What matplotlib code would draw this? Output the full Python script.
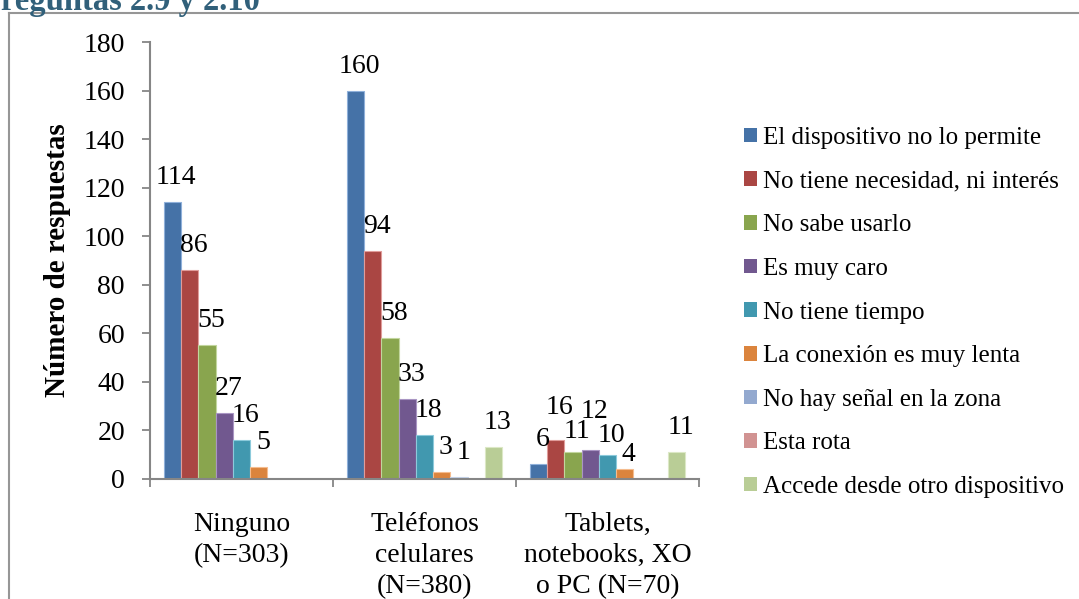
import numpy as np
import matplotlib.pyplot as plt
from matplotlib.patches import Patch

plt.rcParams['font.family'] = ['Liberation Serif', 'DejaVu Serif']

categorias = ['Ninguno\n(N=303)', 'Teléfonos\ncelulares\n(N=380)', 'Tablets,\nnotebooks, XO\no PC (N=70)']
series = ['El dispositivo no lo permite', 'No tiene necesidad, ni interés', 'No sabe usarlo',
          'Es muy caro', 'No tiene tiempo', 'La conexión es muy lenta',
          'No hay señal en la zona', 'Esta rota', 'Accede desde otro dispositivo']
nan = np.nan
valores = [
    [114, 160, 6],
    [86, 94, 16],
    [55, 58, 11],
    [27, 33, 12],
    [16, 18, 10],
    [5, 3, 4],
    [nan, 1, nan],
    [nan, nan, nan],
    [nan, 13, 11],
]
colores = ['#4572A7', '#AA4643', '#89A54E', '#71588F', '#4198AF',
           '#DB843D', '#93A9CF', '#D19392', '#B9CD96']
bordes = ['#8FB0DA', '#E09C9A', '#C2D69E', '#A995C3', '#8CCADB',
          '#F5BC8E', '#C5D3EA', '#EDC6C5', '#DCE8C6']

# ajuste vertical (px) de algunas etiquetas para que no se pisen: (serie, categoria)
ajuste = {(1, 2): 8, (2, 2): -4, (3, 2): 14, (4, 2): -5, (5, 2): -10}

fig = plt.figure(figsize=(10.79, 5.99), dpi=100)
ax = fig.add_axes([150/1079, 1-479/599, 549/1079, 437/599])

px = 72 / fig.dpi
x = np.arange(len(categorias))
ancho = 0.0946
n = len(series)
for i in range(n):
    pos = x + (i - (n-1)/2) * ancho
    vals = np.array(valores[i], dtype=float)
    ax.bar(pos, np.nan_to_num(vals), width=ancho, color=colores[i],
           edgecolor=bordes[i], linewidth=0.8)
    for j, (p, v) in enumerate(zip(pos, vals)):
        if not np.isnan(v):
            dy = 18 + ajuste.get((i, j), 0)
            ax.annotate(f'{int(v)}', xy=(p, v), xytext=(4*px, dy*px), textcoords='offset points',
                        ha='center', va='baseline', fontsize=20)

ax.set_xlim(-0.5, 2.5)
ax.set_ylim(0, 180)
ax.set_yticks(range(0, 181, 20))
ax.set_xticks(x)
ax.set_xticklabels(categorias, fontsize=20, linespacing=1.3, va='top')
ax.set_xticks([-0.5, 0.5, 1.5, 2.5], minor=True)
ax.tick_params(axis='x', which='major', length=0, pad=24)
ax.tick_params(axis='x', which='minor', length=6, width=1.3, color='#868686')
ax.tick_params(axis='y', length=6, width=1.3, color='#868686', labelsize=20, pad=12)
for s in ['top', 'right']:
    ax.spines[s].set_visible(False)
for s in ['left', 'bottom']:
    ax.spines[s].set_color('#868686')
    ax.spines[s].set_linewidth(1.5)

fig.text(58/1079, 1-260/599, 'Número de respuestas', rotation=90, ha='center', va='center',
         fontsize=21, fontweight='bold')

handles = [Patch(facecolor=c, edgecolor='none') for c in colores]
fig.legend(handles, series, loc='upper left', bbox_to_anchor=(734/1079, 1-117/599),
           frameon=False, fontsize=18, handlelength=0.52, handleheight=0.52,
           handletextpad=0.22, labelspacing=0.865, borderaxespad=0)

# borde del recuadro y título cortado
fig.add_artist(plt.Line2D([9/1079, 9/1079], [0, 1-13/599], color='#969696', lw=1.5))
fig.add_artist(plt.Line2D([9/1079, 1], [1-13/599, 1-13/599], color='#969696', lw=1.5))
fig.text(-19/1079, 1-10/599, 'Preguntas 2.9 y 2.10', fontsize=23.5, fontweight='bold',
         color='#31607A', ha='left', va='baseline')

fig.savefig('out.png', dpi=100)
